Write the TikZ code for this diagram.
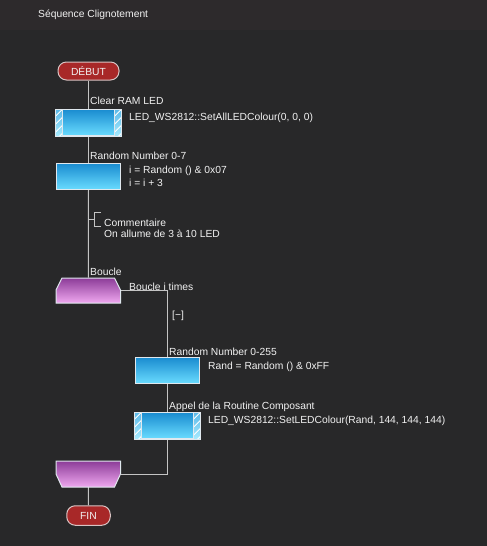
\documentclass[tikz,border=0pt]{standalone}
\usepackage{fontspec}
\setmainfont{Liberation Sans}
\usetikzlibrary{calc}
\definecolor{bgcol}{HTML}{282829}
\definecolor{bandcol}{HTML}{2D2A2C}
\definecolor{linecol}{HTML}{C4C4C4}
\definecolor{txtcol}{HTML}{F2F2F2}
\definecolor{redfill}{HTML}{A82828}
\definecolor{pillborder}{HTML}{D8C4C4}
\definecolor{cyantop}{HTML}{1A8CD0}
\definecolor{cyanbot}{HTML}{6ADCFF}
\definecolor{hatchtop}{HTML}{5AB8E8}
\definecolor{hatchbot}{HTML}{A8ECFF}
\definecolor{purptop}{HTML}{8C3C98}
\definecolor{purpbot}{HTML}{F0A8F0}
\definecolor{boxborder}{HTML}{E0E8EE}
\tikzset{
  lbl/.style={anchor=west, inner sep=0pt, text=txtcol, font=\fontsize{10.3}{11}\selectfont},
  pill/.style={draw=pillborder, line width=1pt, fill=redfill, rounded corners=8.5pt, text=txtcol, font=\fontsize{10.3}{11}\selectfont, inner sep=0pt},
  calcbox/.style={draw=boxborder, line width=1pt, top color=cyantop, bottom color=cyanbot, minimum width=64.5pt, minimum height=26pt, inner sep=0pt},
  loopbox/.style={draw=none, minimum width=64.5pt, minimum height=25.5pt, inner sep=0pt},
  conn/.style={draw=linecol, line width=1pt},
  hatchline/.style={draw=white, line width=0.8pt}
}
\newcommand\hatchends[1]{%
  \foreach \sd/\off in {west/0, east/-6.5} {
    \begin{scope}
      \clip ($(#1.north \sd)+(\off,0)$) rectangle ($(#1.south \sd)+(\off+6.5,0)$);
      \shade[top color=hatchtop, bottom color=hatchbot] ($(#1.north \sd)+(\off,0)$) rectangle ($(#1.south \sd)+(\off+6.5,0)$);
      \foreach \k in {4,-4,...,-36} {
        \draw[hatchline] ($(#1.south \sd)+(\off,\k)$) -- ++(6.5,-6.5);
      }
    \end{scope}
    \draw[draw=boxborder, line width=1pt] ($(#1.north \sd)+(\off+6.5,0)$) -- ($(#1.south \sd)+(\off+6.5,0)$);
    \draw[draw=boxborder, line width=1pt] ($(#1.north \sd)+(\off,0)$) -- ($(#1.south \sd)+(\off,0)$);
  }%
  \draw[draw=boxborder, line width=1pt] (#1.north west) rectangle (#1.south east);
}
\begin{document}
\begin{tikzpicture}[x=1pt, y=-1pt]
\useasboundingbox (0,0) rectangle (487,546);
\fill[bgcol] (0,0) rectangle (487,546);
\fill[bandcol] (0,0) rectangle (487,30);

% title
\node[lbl] (title) at (38,15) {Séquence Clignotement};

% start / end
\node[pill, minimum width=61pt, minimum height=18pt] (debut) at (88.5,71) {DÉBUT};
\node[pill, minimum width=43.5pt, minimum height=19.5pt] (fin) at (88.5,515.5) {FIN};

% boxes
\node[calcbox] (b1) at (88.5,122.5) {};
\node[calcbox] (b2) at (88.5,176.5) {};
\node[calcbox] (b3) at (167.5,370.5) {};
\node[calcbox] (b4) at (167.5,425.5) {};

% loop shapes
\node[loopbox] (ls) at (88.25,290.5) {};
\node[loopbox] (le) at (88.25,474) {};

% connectors
\coordinate (cj) at (88.5,219);
\draw[conn] (debut.south) -- (b1.north);
\draw[conn] (b1.south) -- (b2.north);
\draw[conn] (b2.south) -- (ls.north);
\draw[conn] (ls.east) -| (b3.north);
\draw[conn] (b3.south) -- (b4.north);
\draw[conn] (b4.south) |- (le.east);
\draw[conn] (le.south) -- (fin.north);

% comment bracket
\draw[conn] (cj) -- (94.5,219);
\draw[conn] (100.5,212) -- (94.5,212) -- (94.5,226) -- (100.5,226);

% boxes redrawn with hatch ends
\hatchends{b1}
\hatchends{b4}

% loop start and end shapes
\shade[top color=purptop, bottom color=purpbot, draw=boxborder, line width=1pt]
  (56,303) -- (56,290) -- (62,278) -- (114.5,278) -- (120.5,290) -- (120.5,303) -- cycle;
\shade[top color=purptop, bottom color=purpbot, draw=boxborder, line width=1pt]
  (56,461) -- (120.5,461) -- (120.5,474) -- (114.5,487) -- (62,487) -- (56,474) -- cycle;

% labels
\node[lbl] (l1) at (90,101) {Clear RAM LED};
\node[lbl] (t1) at (129,118) {LED\_WS2812::SetAllLEDColour(0, 0, 0)};
\node[lbl] (l2) at (90,156) {Random Number 0-7};
\node[lbl] (t2a) at (129,171) {i = Random () \& 0x07};
\node[lbl] (t2b) at (129,183) {i = i + 3};
\node[lbl] (c1) at (104,223) {Commentaire};
\node[lbl] (c2) at (104,234) {On allume de 3 à 10 LED};
\node[lbl] (lb) at (90,272) {Boucle};
\node[lbl] (lbt) at (129,287) {Boucle i times};
\node[lbl] (col) at (172,316) {[−]};
\node[lbl] (l3) at (169,352) {Random Number 0-255};
\node[lbl] (t3) at (208,367) {Rand = Random () \& 0xFF};
\node[lbl] (l4) at (169,407) {Appel de la Routine Composant};
\node[lbl] (t4) at (208,421) {LED\_WS2812::SetLEDColour(Rand, 144, 144, 144)};
\end{tikzpicture}
\end{document}
